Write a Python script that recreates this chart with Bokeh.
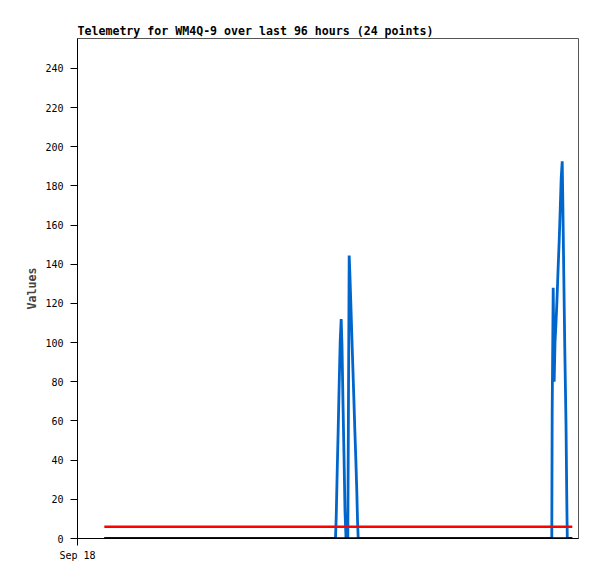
from bokeh.plotting import figure
from bokeh.models import Range1d, FixedTicker
from bokeh.embed import file_html
from bokeh.resources import INLINE

# Time in hours since Sep 18 00:00
hours = [5.5, 52.92, 53.07, 53.27, 53.48, 53.68, 53.89, 54.09, 54.26, 54.46, 54.67, 54.87, 55.08,
         55.45, 55.59, 55.73, 55.86, 56.06, 56.27, 56.47, 56.68, 56.88, 57.09, 57.29, 57.44, 57.58,
         97.29, 97.37, 97.58, 97.78, 97.95, 98.15, 98.36, 98.56, 98.81, 99.02, 99.22, 99.43, 99.55,
         99.75, 99.96, 100.21, 100.37, 100.47, 101.5]
values = [0, 0, 11, 34, 56, 79, 101, 112, 98, 69, 42, 14, 0,
          0, 72, 144.5, 136, 120.7, 103.7, 88.3, 72.2, 56, 40.7, 24.5, 9.2, 0,
          0, 64, 128, 80, 100, 110, 122, 136, 152, 168, 184, 192.6, 173,
          135, 96.5, 58, 19.4, 0, 0]
span_hours = [5.5, 101.5]
threshold = [6, 6]
baseline = [0, 0]
y_ticks = [0, 20, 40, 60, 80, 100, 120, 140, 160, 180, 200, 220, 240]
x_ticks = [0]
x_tick_labels = {0: "Sep 18"}

p = figure(width=589, height=571, output_backend="svg", toolbar_location=None,
           title="Telemetry for WM4Q-9 over last 96 hours (24 points)",
           x_range=Range1d(0, 102.77), y_range=Range1d(0, 255.3),
           min_border_left=77, min_border_top=38, min_border_right=11, min_border_bottom=33)

p.title.text_font = "DejaVu Sans Mono"
p.title.text_font_size = "11.6px"
p.title.text_font_style = "bold"
p.title.align = "left"
p.title.text_color = "black"
p.title.standoff = 2

p.grid.visible = False
p.outline_line_color = "#555555"
p.outline_line_width = 1

for ax in (p.xaxis[0], p.yaxis[0]):
    ax.axis_line_color = "black"
    ax.major_tick_line_color = "black"
    ax.major_tick_out = 7
    ax.major_tick_in = 0
    ax.minor_tick_line_color = None
    ax.major_label_text_font = "DejaVu Sans Mono"
    ax.major_label_text_font_size = "10px"
    ax.major_label_text_color = "black"

p.yaxis[0].ticker = FixedTicker(ticks=y_ticks)
p.yaxis[0].major_label_standoff = 7
p.yaxis[0].axis_label = "Values"
p.yaxis[0].axis_label_text_font = "DejaVu Sans Mono"
p.yaxis[0].axis_label_text_font_size = "11.6px"
p.yaxis[0].axis_label_text_font_style = "bold"
p.yaxis[0].axis_label_standoff = 3

p.xaxis[0].ticker = FixedTicker(ticks=x_ticks)
p.xaxis[0].major_label_overrides = x_tick_labels
p.xaxis[0].major_label_standoff = 4

p.line(hours, values, line_color="#0066cc", line_width=2.8)
p.line(span_hours, threshold, line_color="#ff0000", line_width=2.5)
p.line(span_hours, baseline, line_color="black", line_width=2.5)

open("out.html", "w").write(file_html(p, INLINE))
